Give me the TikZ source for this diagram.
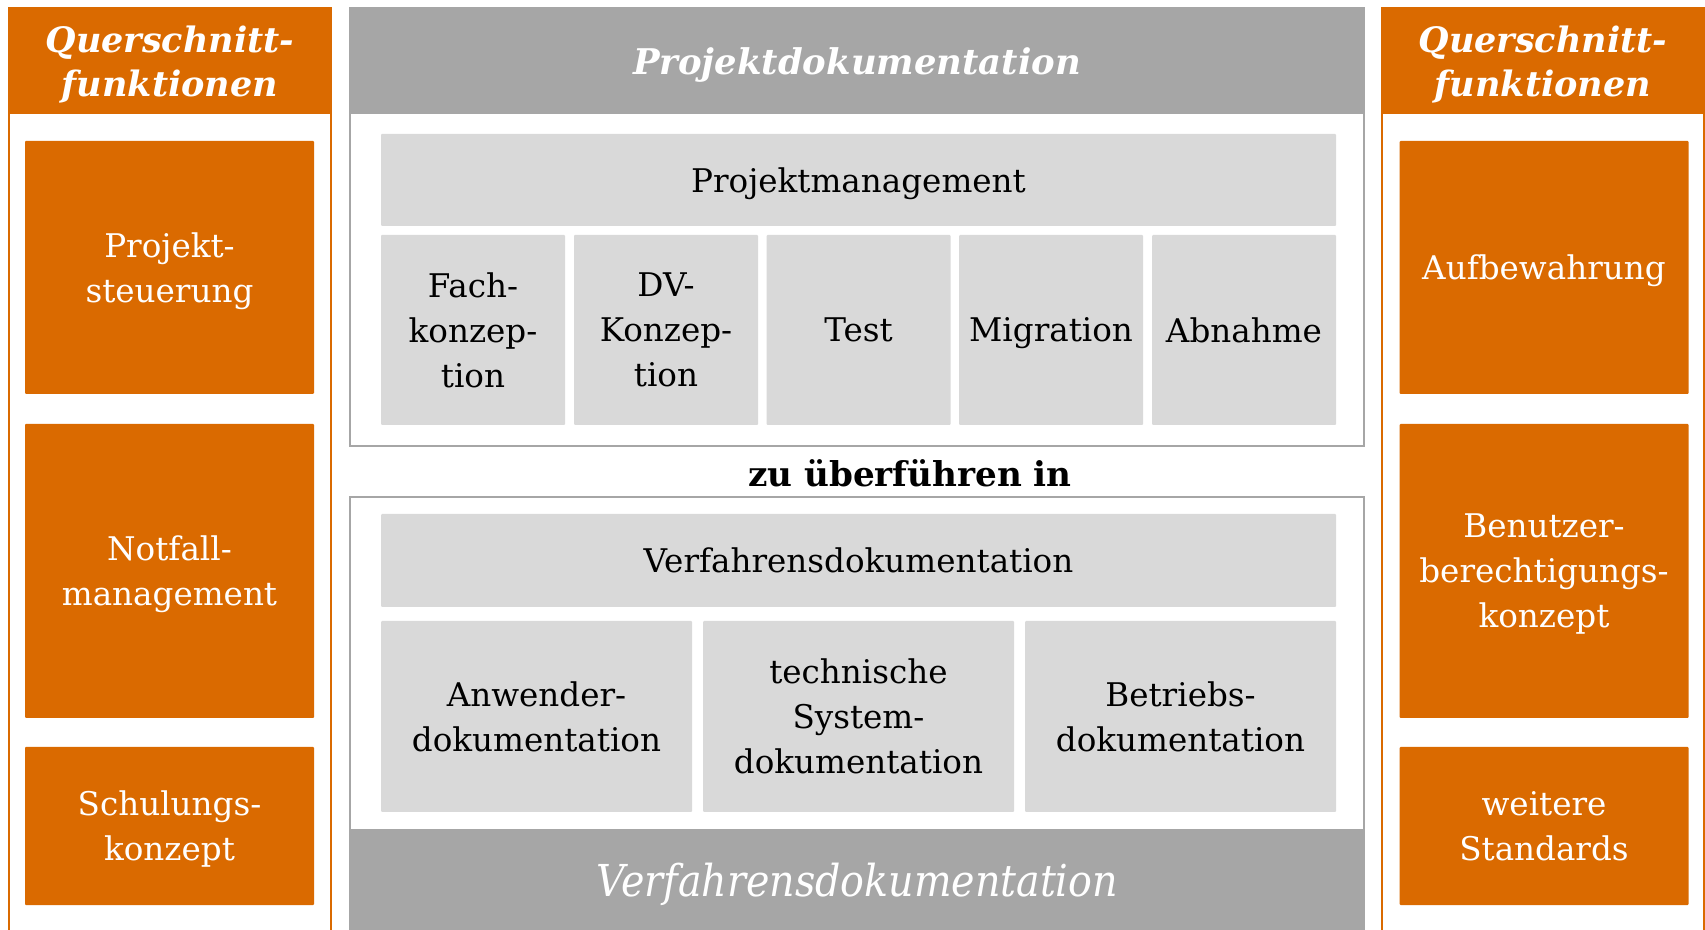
\documentclass[tikz,border=0pt]{standalone}
\usepackage{fontspec}
\setmainfont{DejaVu Serif}
\definecolor{pwcorange}{HTML}{DA6A00}
\definecolor{darkgrey}{HTML}{A6A6A6}
\definecolor{lightgrey}{HTML}{D9D9D9}

\begin{document}
\begin{tikzpicture}[x=0.5pt, y=-0.5pt,
    colframe/.style={draw=pwcorange, line width=1pt, fill=white},
    docframe/.style={draw=darkgrey, line width=1pt, fill=white},
    colhead/.style={fill=pwcorange, text=white, align=center, inner sep=0pt,
      minimum width=161pt, minimum height=53pt, text depth=0pt,
      font=\fontsize{17.5}{21.75}\selectfont\bfseries\itshape},
    dochead/.style={fill=darkgrey, text=white, align=center, inner sep=0pt,
      minimum width=507pt, minimum height=53pt, text depth=0pt},
    topic/.style={fill=pwcorange, text=white, align=center, inner sep=0pt,
      rounded corners=0.5pt, minimum width=144.5pt, text depth=0pt,
      font=\fontsize{16.3}{22.5}\selectfont},
    part/.style={fill=lightgrey, text=black, align=center, inner sep=0pt,
      rounded corners=0.5pt, text depth=0pt,
      font=\fontsize{16.3}{22.5}\selectfont}]
  \clip (0,0) rectangle (1705,930);

  % Querschnittfunktionen links
  \draw[colframe] (9,8) rectangle (331,950);
  \node[colhead] (lhead) at (170,61) {Querschnitt-\\funktionen};
  \node[topic, minimum height=126.5pt] (steuerung) at (169.5,267.5) {Projekt-\\steuerung};
  \node[topic, minimum height=147pt] (notfall) at (169.5,571) {Notfall-\\management};
  \node[topic, minimum height=79pt] (schulung) at (169.5,826) {Schulungs-\\konzept};

  % Querschnittfunktionen rechts
  \draw[colframe] (1382,8) rectangle (1704,950);
  \node[colhead] (rhead) at (1543,61) {Querschnitt-\\funktionen};
  \node[topic, minimum height=126.5pt] (aufbewahrung) at (1544,267.5) {Aufbewahrung};
  \node[topic, minimum height=147pt] (berechtigung) at (1544,571) {Benutzer-\\berechtigungs-\\konzept};
  \node[topic, minimum height=79pt] (standards) at (1544,826) {weitere\\Standards};

  % Projektdokumentation
  \draw[docframe] (350,8) rectangle (1364,446);
  \node[dochead, font=\fontsize{17.7}{20}\selectfont\bfseries\itshape] (projdoc) at (857,61) {Projektdokumentation};
  \node[part, minimum width=477.5pt, minimum height=46pt] (pm) at (858.5,180) {Projektmanagement};
  \node[part, minimum width=92pt, minimum height=95pt] (fach) at (473,330) {Fach-\\konzep-\\tion};
  \node[part, minimum width=92pt, minimum height=95pt] (dv) at (666,330) {DV-\\Konzep-\\tion};
  \node[part, minimum width=92pt, minimum height=95pt] (test) at (858.5,330) {Test};
  \node[part, minimum width=92pt, minimum height=95pt] (migration) at (1051,330) {Migration};
  \node[part, minimum width=92pt, minimum height=95pt] (abnahme) at (1244,330) {Abnahme};

  \node[font=\fontsize{17.1}{20}\selectfont\bfseries] (ueberfuehren) at (910,473) {zu überführen in};

  % Verfahrensdokumentation
  \draw[docframe] (350,497) rectangle (1364,950);
  \node[part, minimum width=477.5pt, minimum height=46.5pt] (vd) at (858.5,560.5) {Verfahrensdokumentation};
  \node[part, minimum width=155.5pt, minimum height=95.5pt] (anwender) at (536.5,716.5) {Anwender-\\dokumentation};
  \node[part, minimum width=155.5pt, minimum height=95.5pt] (system) at (858.5,716.5) {technische\\System-\\dokumentation};
  \node[part, minimum width=155.5pt, minimum height=95.5pt] (betrieb) at (1180.5,716.5) {Betriebs-\\dokumentation};
  \node[dochead, anchor=north] (verfdoc) at (857,829) {};
  \node[text=white, font=\fontsize{22}{26}\selectfont\itshape] (verftitle) at (857,884) {\scalebox{0.9}[1]{Verfahrensdokumentation}};
\end{tikzpicture}
\end{document}
